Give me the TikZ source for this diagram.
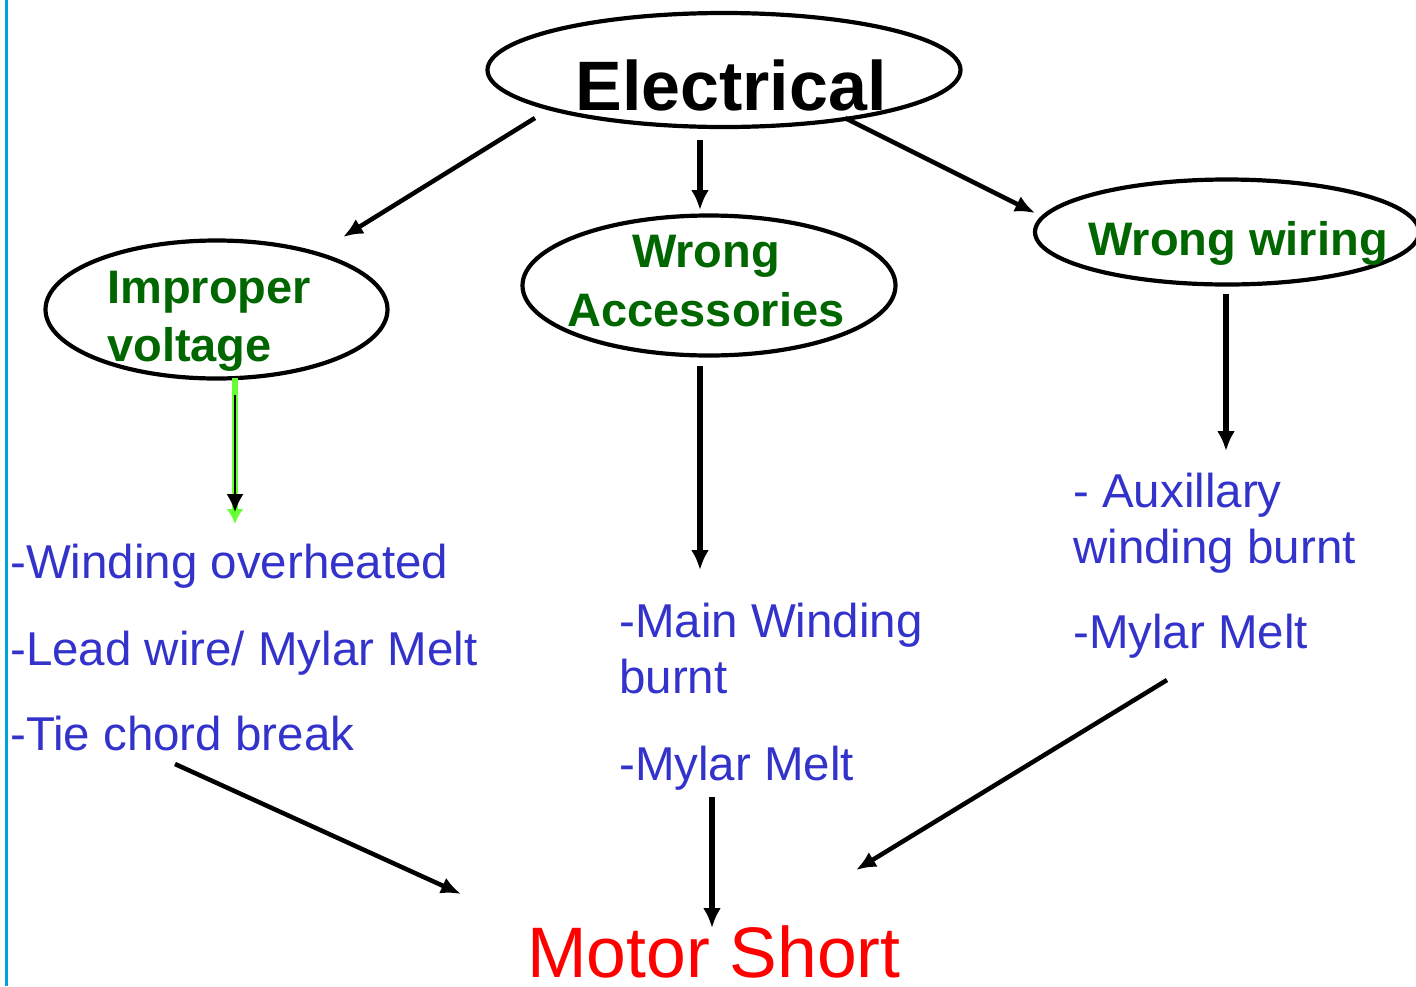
\documentclass[tikz,border=0pt]{standalone}
\usepackage{fontspec}
\setmainfont{Liberation Sans}
\usetikzlibrary{arrows.meta,shapes.geometric}
\definecolor{tgreen}{RGB}{0,102,0}
\definecolor{tblue}{RGB}{51,51,204}
\definecolor{lgreen}{RGB}{102,255,51}
\definecolor{frameblue}{RGB}{0,160,225}
\begin{document}
\begin{tikzpicture}[x=1pt,y=-1pt,
  oval/.style={draw=black, line width=4.2pt, ellipse, inner sep=0pt},
  head/.style={font=\fontsize{47}{56}\selectfont\bfseries, text=tgreen, inner sep=0pt},
  item/.style={font=\fontsize{47.5}{56}\selectfont, text=tblue, inner sep=0pt, anchor=base west},
  diag/.style={line width=4.5pt, -{Latex[length=20pt,width=17pt]}},
  vert/.style={line width=6pt, -{Latex[length=20pt,width=18pt]}}]
\fill[white] (0,0) rectangle (1416,986);
\path[use as bounding box] (0,0) rectangle (1416,986);
\draw[frameblue, line width=2.5pt] (6.5,0) -- (6.5,986);

% ellipses
\node[oval, minimum width=473pt, minimum height=114pt] (elec) at (724,70) {};
\node[oval, minimum width=342pt, minimum height=138pt] (imp) at (216.5,309.5) {};
\node[oval, minimum width=373pt, minimum height=140pt] (acc) at (709,285.5) {};
\node[oval, minimum width=384pt, minimum height=105pt] (wir) at (1227,232) {};

% labels
\node[font=\fontsize{70}{84}\selectfont\bfseries, inner sep=0pt, anchor=base] (eleclbl) at (731,110) {Electrical};
\node[head, anchor=base west] (imp1) at (107,303) {Improper};
\node[head, anchor=base west] (imp2) at (107,361) {voltage};
\node[head, anchor=base] (acc1) at (706,267) {Wrong};
\node[head, anchor=base] (acc2) at (706,326) {Accessories};
\node[head, anchor=base] (wir1) at (1238,255) {Wrong wiring};

\node[item] (w1) at (10,578) {-Winding overheated};
\node[item] (w2) at (10,665) {-Lead wire/ Mylar Melt};
\node[item] (w3) at (10,750) {-Tie chord break};
\node[item] (m1) at (619,637) {-Main Winding};
\node[item] (m2) at (619,693) {burnt};
\node[item] (m3) at (619,780) {-Mylar Melt};
\node[item] (a1) at (1073,507) {- Auxillary};
\node[item] (a2) at (1073,563) {winding burnt};
\node[item] (a3) at (1073,648) {-Mylar Melt};
\node[font=\fontsize{71.5}{86}\selectfont, text=red, anchor=base west, inner sep=0pt] (motor) at (527,977) {Motor Short};

% connector end points
\coordinate (e1s) at (535,118); \coordinate (e1t) at (343,237);
\coordinate (e2s) at (700,140); \coordinate (e2t) at (700,210);
\coordinate (e3s) at (845,118); \coordinate (e3t) at (1035,213);
\coordinate (gs) at (235,378);  \coordinate (gt) at (235,524);
\coordinate (bs) at (235,395);  \coordinate (bt) at (235,512);
\coordinate (as) at (700,366);  \coordinate (at) at (700,570);
\coordinate (ws) at (1226,294); \coordinate (wt) at (1226,451);
\coordinate (ts) at (175,764);  \coordinate (tt) at (461,894);
\coordinate (ms) at (712,797);  \coordinate (mt) at (712,928);
\coordinate (ys) at (1167,680); \coordinate (yt) at (856,870);

\draw[diag] (e1s) -- (e1t);
\draw[vert, line width=5.5pt] (e2s) -- (e2t);
\draw[diag] (e3s) -- (e3t);
\draw[lgreen, line width=6pt, -{Latex[length=15pt,width=17pt]}] (gs) -- (gt);
\draw[black, line width=2pt, -{Latex[length=18pt,width=17pt]}] (bs) -- (bt);
\draw[vert] (as) -- (at);
\draw[vert] (ws) -- (wt);
\draw[diag] (ts) -- (tt);
\draw[vert] (ms) -- (mt);
\draw[diag] (ys) -- (yt);
\end{tikzpicture}
\end{document}
